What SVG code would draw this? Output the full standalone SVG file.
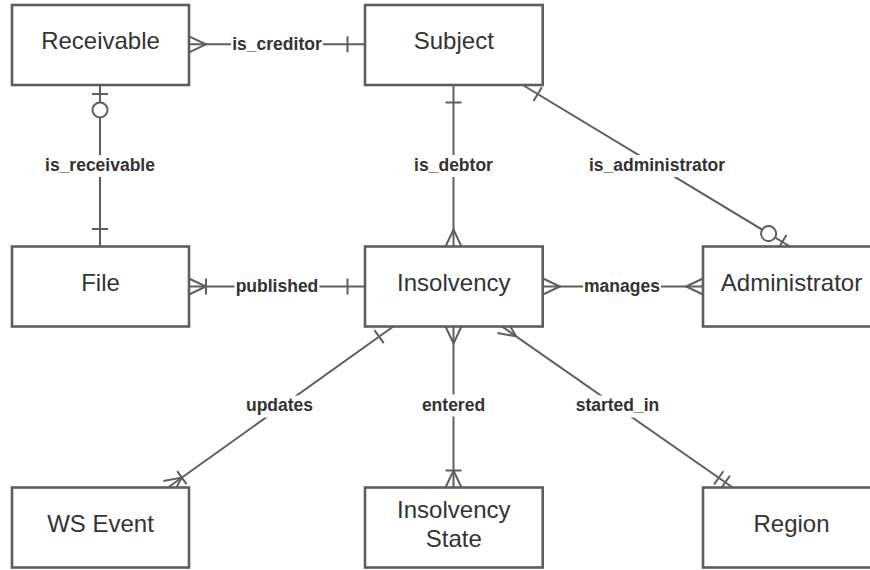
<svg xmlns="http://www.w3.org/2000/svg" width="870" height="570" viewBox="0 0 870 570">
<style>
.box{fill:#fff;stroke:#5e5e5e;stroke-width:2.6}
.nt{font-family:"Liberation Sans",Arial,sans-serif;font-size:24px;fill:#333;text-anchor:middle}
.conn{fill:none;stroke:#5e5e5e;stroke-width:2}
.mk{fill:none;stroke:#5e5e5e;stroke-width:2}
.lb{font-family:"Liberation Sans",Arial,sans-serif;font-size:17.5px;font-weight:bold;fill:#333;text-anchor:middle}
.lbg{fill:#fff;stroke:none}
</style>
<defs>
<marker id="one" markerUnits="userSpaceOnUse" orient="auto-start-reverse" refX="0" refY="0" markerWidth="40" markerHeight="40" overflow="visible">
<path class="mk" d="M-17.5,-8V8"/>
</marker>
<marker id="many" markerUnits="userSpaceOnUse" orient="auto-start-reverse" refX="0" refY="0" markerWidth="40" markerHeight="40" overflow="visible">
<path class="mk" d="M0,-8L-17,0L0,8"/>
</marker>
<marker id="onemany" markerUnits="userSpaceOnUse" orient="auto-start-reverse" refX="0" refY="0" markerWidth="40" markerHeight="40" overflow="visible">
<path class="mk" d="M0,-8L-17,0L0,8M-17,-8V8"/>
</marker>
<marker id="zeroone" markerUnits="userSpaceOnUse" orient="auto-start-reverse" refX="0" refY="0" markerWidth="60" markerHeight="60" overflow="visible">
<path class="mk" d="M-9,-8V8"/>
<circle class="mk" cx="-25" cy="0" r="7.5" style="fill:#fff"/>
</marker>
<marker id="onlyone" markerUnits="userSpaceOnUse" orient="auto-start-reverse" refX="0" refY="0" markerWidth="40" markerHeight="40" overflow="visible">
<path class="mk" d="M-9,-8V8M-17,-8V8"/>
</marker>
</defs>

<g id="connectors">
<line class="conn" x1="189" y1="44.3" x2="365" y2="44.3" marker-start="url(#many)" marker-end="url(#one)"/>
<line class="conn" x1="100" y1="85" x2="100" y2="246.5" marker-start="url(#zeroone)" marker-end="url(#one)"/>
<line class="conn" x1="453.5" y1="85" x2="453.5" y2="246.5" marker-start="url(#one)" marker-end="url(#many)"/>
<line class="conn" x1="522.7" y1="85" x2="790" y2="246.5" marker-start="url(#one)" marker-end="url(#zeroone)"/>
<line class="conn" x1="189" y1="286.5" x2="365" y2="286.5" marker-start="url(#onemany)" marker-end="url(#one)"/>
<line class="conn" x1="543" y1="286.5" x2="703" y2="286.5" marker-start="url(#many)" marker-end="url(#many)"/>
<line class="conn" x1="393.3" y1="326.5" x2="168" y2="487.5" marker-start="url(#one)" marker-end="url(#onemany)"/>
<line class="conn" x1="453.5" y1="326.5" x2="453.5" y2="487.5" marker-start="url(#many)" marker-end="url(#onemany)"/>
<line class="conn" x1="502" y1="326.5" x2="732.7" y2="487.5" marker-start="url(#many)" marker-end="url(#onlyone)"/>

<rect class="lbg" x="231" y="33.3" width="92" height="22"/>
<text class="lb" x="277" y="49.8">is_creditor</text>
<rect class="lbg" x="43" y="155" width="114" height="22"/>
<text class="lb" x="100" y="170.5">is_receivable</text>
<rect class="lbg" x="412" y="155" width="83" height="22"/>
<text class="lb" x="453.5" y="170.5">is_debtor</text>
<rect class="lbg" x="587" y="155" width="140" height="22"/>
<text class="lb" x="657" y="170.5">is_administrator</text>
<rect class="lbg" x="234.5" y="275.5" width="85" height="22"/>
<text class="lb" x="277" y="292">published</text>
<rect class="lbg" x="583" y="275.5" width="78" height="22"/>
<text class="lb" x="622" y="292">manages</text>
<rect class="lbg" x="244" y="395.5" width="71" height="22"/>
<text class="lb" x="279.5" y="411">updates</text>
<rect class="lbg" x="420" y="394.5" width="67" height="22"/>
<text class="lb" x="453.5" y="410.5">entered</text>
<rect class="lbg" x="574" y="395.5" width="88" height="22"/>
<text class="lb" x="617.5" y="411">started_in</text>
</g>

<g id="receivable"><rect class="box" x="12" y="5" width="177" height="80"/><text class="nt" x="100.5" y="49.3">Receivable</text></g>
<g id="subject"><rect class="box" x="365" y="5" width="177.7" height="80"/><text class="nt" x="453.8" y="49.3">Subject</text></g>
<g id="file"><rect class="box" x="12" y="246.5" width="177" height="80"/><text class="nt" x="100.5" y="290.8">File</text></g>
<g id="insolvency"><rect class="box" x="365" y="246.5" width="177.7" height="80"/><text class="nt" x="453.8" y="290.8">Insolvency</text></g>
<g id="administrator"><rect class="box" x="703" y="246.5" width="177.7" height="80"/><text class="nt" x="791.5" y="290.8">Administrator</text></g>
<g id="ws-event"><rect class="box" x="12" y="487.5" width="177" height="80"/><text class="nt" x="100.5" y="531.8">WS Event</text></g>
<g id="insolvency-state"><rect class="box" x="365" y="487.5" width="177.7" height="80"/><text class="nt" x="453.8" y="518.3">Insolvency</text><text class="nt" x="453.8" y="546.6">State</text></g>
<g id="region"><rect class="box" x="703" y="487.5" width="177.7" height="80"/><text class="nt" x="791.5" y="531.8">Region</text></g>
</svg>
